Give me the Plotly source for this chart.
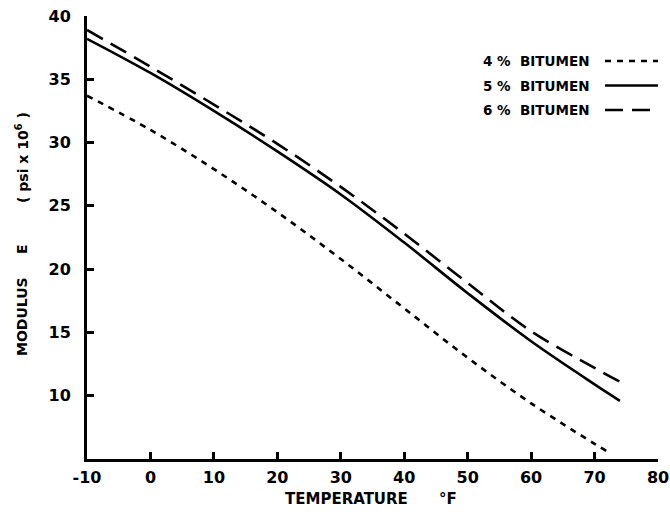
import plotly.graph_objects as go

# Data
temp_4 = [-10, 0, 10, 20, 30, 40, 50, 60, 70, 72]
mod_4 = [33.7, 31.0, 27.9, 24.5, 20.8, 16.9, 13.0, 9.4, 6.2, 5.6]

temp_5 = [-10, 0, 10, 20, 30, 40, 50, 60, 70, 74]
mod_5 = [38.2, 35.5, 32.5, 29.3, 25.9, 22.1, 18.1, 14.3, 10.9, 9.6]

temp_6 = [-10, 0, 10, 20, 30, 40, 50, 60, 70, 74]
mod_6 = [38.9, 36.0, 33.0, 29.9, 26.5, 22.8, 18.9, 15.1, 12.2, 11.1]

series_names = ["4 %\u00a0 BITUMEN", "5 %\u00a0 BITUMEN", "6 %\u00a0 BITUMEN"]
x_ticks = [-10, 0, 10, 20, 30, 40, 50, 60, 70, 80]
y_ticks = [10, 15, 20, 25, 30, 35, 40]

FONT = "DejaVu Sans"
dashes = ["6px,6px", "solid", "18px,9px"]

fig = go.Figure()
for xs, ys, d, name in zip([temp_4, temp_5, temp_6], [mod_4, mod_5, mod_6], dashes, series_names):
    fig.add_trace(go.Scatter(x=xs, y=ys, mode="lines", name=name,
                             line=dict(color="black", width=2.6, dash=d, shape="spline", smoothing=1.0),
                             showlegend=False))

# Page body margin is removed in post_script, so figure pixels == page pixels
W, H = 670, 514
L, R, T, B = 87, 670 - 658, 16, 514 - 459
pw, ph = W - L - R, H - T - B
def px(x):
    return (x - L) / pw
def py(y):
    return 1 - (y - T) / ph

shapes = []
annotations = []
for i, (name, d) in enumerate(zip(series_names, dashes)):
    yy = 61 + i * 24.5
    annotations.append(dict(x=px(591), y=py(yy), xref="paper", yref="paper", text="<b>" + name + "</b>",
                            showarrow=False, xanchor="right", yanchor="middle",
                            font=dict(family=FONT, size=13.5, color="black")))
    shapes.append(dict(type="line", xref="paper", yref="paper", x0=px(605), x1=px(658), y0=py(yy), y1=py(yy),
                       line=dict(color="black", width=2.6, dash=d)))

# Axis titles
annotations.append(dict(x=px(283), y=py(499), xref="paper", yref="paper",
                        text="<b>TEMPERATURE</b>", showarrow=False, xanchor="left", yanchor="middle",
                        font=dict(family=FONT, size=15, color="black")))
annotations.append(dict(x=px(437), y=py(499), xref="paper", yref="paper",
                        text="<b>°F</b>", showarrow=False, xanchor="left", yanchor="middle",
                        font=dict(family=FONT, size=15, color="black")))
annotations.append(dict(x=px(22), y=py(317), xref="paper", yref="paper",
                        text="<b>MODULUS</b>", showarrow=False, xanchor="center", yanchor="middle", textangle=-90,
                        font=dict(family=FONT, size=14, color="black")))
annotations.append(dict(x=px(22), y=py(249), xref="paper", yref="paper",
                        text="<b>E</b>", showarrow=False, xanchor="center", yanchor="middle", textangle=-90,
                        font=dict(family=FONT, size=14, color="black")))
annotations.append(dict(x=px(22), y=py(158), xref="paper", yref="paper",
                        text="<b>(\u00a0psi\u00a0x\u00a010<sup>6</sup>\u00a0)</b>", showarrow=False,
                        xanchor="center", yanchor="middle", textangle=-90,
                        font=dict(family=FONT, size=14, color="black")))

fig.update_layout(
    width=W, height=H,
    margin=dict(l=L, r=R, t=T, b=B, autoexpand=False),
    paper_bgcolor="white", plot_bgcolor="white",
    shapes=shapes, annotations=annotations,
    font=dict(family=FONT, color="black"),
)
fig.update_xaxes(range=[-10, 80], tickvals=x_ticks, ticktext=[str(v) for v in x_ticks],
                 showline=True, linecolor="black", linewidth=3, ticks="inside", ticklen=7, tickwidth=2.5,
                 tickcolor="black", showgrid=False, zeroline=False, automargin=False,
                 ticklabeloverflow="allow",
                 tickfont=dict(family=FONT, size=16, color="black", weight="bold"), ticklabelstandoff=2)
fig.update_yaxes(range=[5, 40], tickvals=y_ticks, ticktext=[str(v) for v in y_ticks],
                 showline=True, linecolor="black", linewidth=3, ticks="inside", ticklen=7, tickwidth=2.5,
                 tickcolor="black", showgrid=False, zeroline=False, automargin=False,
                 ticklabeloverflow="allow",
                 tickfont=dict(family=FONT, size=16, color="black", weight="bold"), ticklabelstandoff=10)

fig.write_html("out.html", config={"displayModeBar": False},
               post_script="document.body.style.margin='0px';document.body.style.overflow='hidden';")
